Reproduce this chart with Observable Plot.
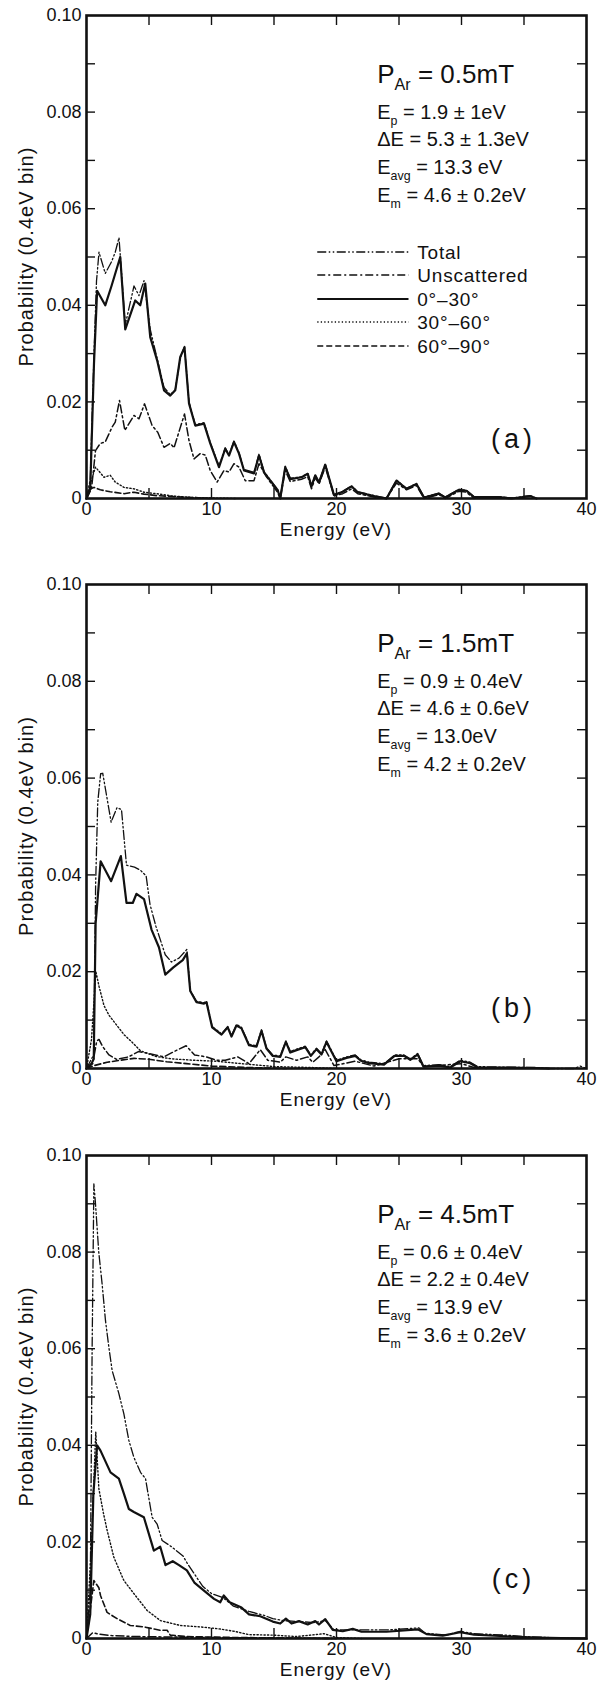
<!DOCTYPE html>
<html><head><meta charset="utf-8">
<script src="https://cdn.jsdelivr.net/npm/d3@7"></script>
<script src="https://cdn.jsdelivr.net/npm/@observablehq/plot@0.6"></script>
<style>
body{margin:0;background:#fff;}
#chart{width:609px;}
#chart svg{display:block;}
</style></head><body><div id="chart"></div>
<script>
const FONT = "'Liberation Sans', Arial, sans-serif";
const xTicks = [0, 10, 20, 30, 40];
const yTicks = [0, 0.02, 0.04, 0.06, 0.08, 0.10];
const xMinor = [5, 10, 15, 20, 25, 30, 35];
const yMinor = [0.01, 0.02, 0.03, 0.04, 0.05, 0.06, 0.07, 0.08, 0.09];
const seriesNames = ["Total", "Unscattered", "0°–30°", "30°–60°", "60°–90°"];

// Panel (a) P_Ar = 0.5 mT : [energy eV, probability]
const aTotal = [[0,0],[0.3,0.004],[0.6,0.03],[0.8,0.045],[1.0,0.051],[1.5,0.0466],[2.0,0.049],[2.3,0.051],[2.6,0.054],[3.1,0.036],[3.8,0.044],[4.2,0.042],[4.6,0.0451],[5.1,0.035],[5.65,0.029],[6.2,0.023],[6.7,0.0215],[7.1,0.0225],[7.5,0.029],[7.84,0.0315],[8.2,0.020],[8.7,0.0153],[9.4,0.0157],[9.9,0.0116],[10.6,0.0067],[11.1,0.0105],[11.4,0.009],[11.8,0.0119],[12.2,0.0095],[12.6,0.006],[13.4,0.0054],[13.8,0.0092],[14.2,0.0056],[15.3,0.0018],[15.5,0.0002],[15.9,0.0067],[16.3,0.0042],[17.2,0.0045],[17.7,0.0052],[18.0,0.0026],[18.3,0.0049],[18.6,0.0034],[19.1,0.0072],[19.8,0.0008],[20.5,0.0015],[21.2,0.0026],[21.7,0.0014],[23.0,0.0006],[24.0,0.0001],[24.8,0.0038],[25.6,0.0021],[26.4,0.0031],[27.0,0.0003],[28.2,0.0011],[28.7,0.0003],[29.8,0.0019],[30.4,0.0017],[31.0,0.0004],[33.0,0.0004],[34.0,0.0001],[35.5,0.0006],[36.0,0]];
const aUnscattered = [[0,0],[0.4,0.002],[0.72,0.0099],[1.1,0.0114],[1.5,0.0117],[2.05,0.0148],[2.3,0.0158],[2.64,0.0203],[3.07,0.0141],[3.8,0.0172],[4.2,0.0165],[4.64,0.0196],[5.25,0.0151],[5.7,0.0137],[6.2,0.0106],[6.7,0.0114],[7.0,0.0105],[7.84,0.0175],[8.2,0.012],[8.6,0.0082],[9.1,0.0093],[9.5,0.009],[9.9,0.0058],[10.45,0.0034],[11.0,0.0058],[11.4,0.0055],[11.8,0.0072],[12.2,0.0065],[12.7,0.0037],[13.4,0.0037],[13.8,0.0072],[14.4,0.0045],[15.3,0.0012],[15.5,0],[15.9,0.0058],[16.3,0.0035],[17.2,0.004],[17.7,0.0045],[18.0,0.002],[18.3,0.0043],[18.6,0.003],[19.1,0.0065],[19.8,0.0005],[20.5,0.001],[21.2,0.002],[21.7,0.001],[23,0.0003],[24,0],[24.8,0.0032],[25.6,0.0018],[26.4,0.0027],[27,0],[28.2,0.0008],[28.7,0],[29.8,0.0015],[30.4,0.0013],[31,0]];
const a0to30 = [[0,0],[0.3,0.002],[0.6,0.028],[0.85,0.043],[1.5,0.040],[2.0,0.044],[2.7,0.050],[3.1,0.035],[3.9,0.041],[4.3,0.040],[4.7,0.0445],[5.1,0.0334],[5.65,0.0286],[6.2,0.0224],[6.7,0.0213],[7.1,0.0224],[7.5,0.0293],[7.84,0.0313],[8.2,0.0197],[8.7,0.0151],[9.4,0.0155],[9.9,0.0114],[10.6,0.0065],[11.1,0.0103],[11.4,0.0089],[11.8,0.0117],[12.2,0.0093],[12.6,0.0058],[13.4,0.0052],[13.8,0.0089],[14.2,0.0054],[15.3,0.0017],[15.5,0],[15.9,0.0065],[16.3,0.004],[17.2,0.0044],[17.7,0.0051],[18.0,0.0025],[18.3,0.0048],[18.6,0.0033],[19.1,0.007],[19.8,0.0007],[20.5,0.0014],[21.2,0.0025],[21.7,0.0013],[23.0,0.0005],[24.0,0],[24.8,0.0037],[25.6,0.002],[26.4,0.003],[27.0,0.0002],[28.2,0.001],[28.7,0.0002],[29.8,0.0018],[30.4,0.0016],[31.0,0.0003],[33.0,0.0003],[34,0],[35.5,0.0005],[36,0]];
const a30to60 = [[0,0],[0.3,0.003],[0.72,0.0065],[1.4,0.0044],[1.9,0.0048],[2.3,0.0034],[3.0,0.0023],[3.8,0.002],[4.6,0.0013],[5.6,0.001],[6.9,0.0005],[8.6,0.0002],[10,0.0001],[12,0]];
const a60to90 = [[0,0],[0.3,0.002],[0.6,0.0023],[1.1,0.0018],[1.9,0.0014],[3.0,0.001],[3.8,0.0013],[4.6,0.0009],[5.6,0.0006],[6.9,0.0004],[8.5,0.0002],[10,0]];

// Panel (b) P_Ar = 1.5 mT
const bTotal = [[0,0],[0.4,0.002],[0.58,0.0028],[0.73,0.038],[0.9,0.055],[1.13,0.0609],[1.3,0.061],[1.97,0.0509],[2.44,0.0539],[2.8,0.0535],[3.2,0.042],[3.84,0.0416],[4.3,0.041],[4.77,0.0398],[5.08,0.0339],[5.55,0.0294],[6.3,0.0235],[6.8,0.022],[7.4,0.0228],[8.03,0.0246],[8.3,0.0161],[8.8,0.0139],[9.4,0.0136],[9.6,0.0139],[10.05,0.0087],[10.8,0.0072],[11.3,0.0087],[11.6,0.0068],[12.0,0.0091],[12.4,0.0085],[13.0,0.005],[13.6,0.0047],[14.0,0.008],[14.4,0.0043],[14.9,0.0028],[15.5,0.0026],[15.95,0.0057],[16.3,0.0035],[16.8,0.004],[17.5,0.0046],[17.95,0.0028],[18.4,0.0042],[18.8,0.0031],[19.2,0.0057],[20.0,0.0017],[20.8,0.0024],[21.5,0.0028],[21.95,0.0018],[22.6,0.0013],[23.8,0.001],[24.65,0.0028],[25.4,0.0028],[25.9,0.002],[26.5,0.0031],[26.95,0.0006],[28.2,0.0008],[29.1,0.0004],[29.9,0.0017],[30.7,0.0013],[31.3,0.0004],[33,0.0003],[36,0.0002],[37,0],[39,0],[39.5,0.0005],[40,0]];
const bUnscattered = [[0,0],[0.5,0.001],[0.82,0.0057],[1.0,0.006],[1.3,0.0045],[1.8,0.0028],[2.4,0.0019],[3.37,0.0024],[4.15,0.0035],[4.8,0.0032],[5.5,0.0028],[6.2,0.0024],[7.0,0.0035],[7.97,0.0047],[8.65,0.0028],[9.6,0.0024],[10.4,0.0017],[11.1,0.0017],[12.1,0.0024],[13.0,0.001],[13.9,0.0039],[14.5,0.0017],[15.5,0.0013],[15.95,0.0024],[16.8,0.0017],[17.7,0.0024],[18.1,0.0013],[18.6,0.0024],[19.1,0.0039],[19.8,0.0006],[21.5,0.0015],[23,0.0005],[25,0.002],[26.5,0.002],[27,0.0004],[30,0.001],[31,0.0002],[32,0]];
const b0to30 = [[0,0],[0.4,0.001],[0.58,0.002],[0.73,0.030],[1.13,0.0428],[1.97,0.0387],[2.75,0.0439],[3.2,0.0342],[3.7,0.0342],[4.0,0.0361],[4.6,0.035],[5.2,0.0287],[5.8,0.025],[6.3,0.0194],[6.95,0.0209],[7.7,0.0224],[8.03,0.0238],[8.3,0.016],[8.8,0.0137],[9.4,0.0134],[9.6,0.0137],[10.05,0.0085],[10.8,0.007],[11.3,0.0085],[11.6,0.0066],[12.0,0.0089],[12.4,0.0083],[13.0,0.0048],[13.6,0.0045],[14.0,0.0078],[14.4,0.0041],[14.9,0.0026],[15.5,0.0024],[15.95,0.0055],[16.3,0.0033],[16.8,0.0038],[17.5,0.0044],[17.95,0.0026],[18.4,0.004],[18.8,0.0029],[19.2,0.0055],[20.0,0.0015],[20.8,0.0022],[21.5,0.0026],[21.95,0.0016],[22.6,0.0011],[23.8,0.0008],[24.65,0.0026],[25.4,0.0026],[25.9,0.0018],[26.5,0.0029],[26.95,0.0004],[28.2,0.0006],[29.1,0.0002],[29.9,0.0015],[30.7,0.0011],[31.3,0.0002],[33,0.0002],[36,0.0001],[37,0]];
const b30to60 = [[0,0],[0.4,0.006],[0.75,0.020],[1.0,0.017],[1.4,0.013],[1.8,0.011],[2.4,0.009],[3.0,0.007],[3.5,0.0058],[4.3,0.0037],[5.5,0.0025],[6.8,0.002],[8.6,0.0017],[10.4,0.0015],[12.4,0.001],[15,0.0004],[18,0.0002],[20,0]];
const b60to90 = [[0,0],[0.6,0.0006],[1.65,0.0013],[2.7,0.0017],[3.8,0.0021],[5.0,0.0019],[6.4,0.0014],[8,0.001],[10,0.0005],[13,0.0002],[16,0]];

// Panel (c) P_Ar = 4.5 mT
const cTotal = [[0,0],[0.3,0.01],[0.45,0.06],[0.59,0.0941],[0.72,0.090],[0.98,0.080],[1.25,0.0734],[1.52,0.0658],[1.79,0.0603],[2.05,0.0555],[2.59,0.0507],[2.99,0.0465],[3.39,0.041],[3.79,0.0375],[4.32,0.0344],[4.72,0.0331],[5.25,0.0251],[5.65,0.0237],[6.05,0.0203],[6.85,0.0189],[7.72,0.0171],[8.1,0.0154],[9.3,0.0108],[10.0,0.0093],[10.9,0.0085],[11.76,0.0067],[13.0,0.0056],[14.2,0.0048],[14.9,0.0041],[15.8,0.0037],[18.2,0.0033],[19.1,0.0037],[19.8,0.0018],[21.1,0.0018],[24.3,0.0018],[26.6,0.0022],[27.1,0.0011],[28.8,0.0007],[29.9,0.0015],[31,0.001],[33.5,0.0007],[35,0.0004],[37,0.0002],[40,0]];
const cUnscattered = [[0,0],[0.5,0.0012],[1.0,0.0009],[2,0.0006],[4,0.0004],[7,0.0003],[10,0.0002],[15,0.0001],[20,0]];
const c0to30 = [[0,0],[0.3,0.005],[0.55,0.03],[0.85,0.040],[1.12,0.0389],[1.92,0.0344],[2.59,0.0331],[2.99,0.030],[3.39,0.0268],[3.79,0.0262],[4.59,0.0251],[5.39,0.0182],[5.9,0.019],[6.32,0.0152],[6.9,0.016],[7.4,0.0152],[8.03,0.0141],[8.65,0.0115],[9.3,0.0101],[10.2,0.0082],[10.7,0.0075],[10.98,0.0089],[11.45,0.0075],[12.4,0.0064],[13.0,0.005],[13.9,0.0046],[14.9,0.0035],[15.5,0.0031],[15.95,0.0041],[16.4,0.0031],[17.0,0.0036],[17.7,0.0029],[18.3,0.0036],[18.6,0.0029],[19.1,0.004],[19.7,0.0018],[20.5,0.0015],[21.3,0.002],[22,0.0014],[24,0.0014],[26.5,0.0019],[27.2,0.0009],[28.5,0.0006],[29.9,0.0013],[31,0.0008],[34,0.0004],[36,0.0002],[40,0]];
const c30to60 = [[0,0],[0.4,0.02],[0.74,0.0427],[0.99,0.031],[1.35,0.026],[1.65,0.0224],[2.19,0.0168],[2.99,0.012],[3.79,0.0093],[4.85,0.0058],[5.92,0.0037],[7.5,0.0027],[9.1,0.0024],[10.6,0.002],[11.8,0.0015],[13,0.0008],[14.9,0.0007],[16.8,0.0004],[19,0.001],[20,0.0002],[22,0]];
const c60to90 = [[0,0],[0.3,0.006],[0.59,0.012],[0.99,0.0105],[1.12,0.0089],[1.65,0.0054],[2.45,0.0041],[3.5,0.0027],[4.6,0.0024],[5.9,0.0017],[6.45,0.0017],[6.7,0.0007],[8,0.0004],[12,0.0002],[16,0.0001],[20,0]];

const paramsA = ["0.5mT", "1.9 ± 1eV", "5.3 ± 1.3eV", "13.3 eV", "4.6 ± 0.2eV"];
const paramsB = ["1.5mT", "0.9 ± 0.4eV", "4.6 ± 0.6eV", "13.0eV", "4.2 ± 0.2eV"];
const paramsC = ["4.5mT", "0.6 ± 0.4eV", "2.2 ± 0.4eV", "13.9 eV", "3.6 ± 0.2eV"];

const lineStyles = [
  {strokeWidth: 1.3, strokeDasharray: "9,2.5,1.5,2.5,1.5,2.5"},
  {strokeWidth: 1.5, strokeDasharray: "8,3,2,3"},
  {strokeWidth: 2.2},
  {strokeWidth: 1.4, strokeDasharray: "1.3,2.2"},
  {strokeWidth: 1.6, strokeDasharray: "6,3"}
];

function rich(sel, x, y, size, parts) {
  const t = sel.append("text").attr("x", x).attr("y", y).attr("text-anchor", "start")
    .attr("font-size", size).attr("font-family", FONT).attr("fill", "#111");
  let shifted = false;
  for (const p of parts) {
    const ts = t.append("tspan").text(typeof p === "string" ? p : p.sub);
    if (typeof p !== "string") { ts.attr("font-size", size * 0.62).attr("dy", size * 0.28); shifted = true; }
    else if (shifted) { ts.attr("dy", -size * 0.28); shifted = false; }
  }
  return t;
}

function makePanel({series, height, mb, params, tag, legend}) {
  const W = 609, ml = 86, mr = 23, mt = 15;
  const ph = height - mt - mb, pw = W - ml - mr;
  const lines = series.map((s, i) => Plot.line(s, {
    x: d => d[0], y: d => d[1], stroke: "#111", strokeLinejoin: "round", ...lineStyles[i]
  }));
  const plot = Plot.plot({
    width: W, height, marginTop: mt, marginLeft: ml, marginRight: mr, marginBottom: mb,
    style: {fontFamily: FONT, background: "#fff", color: "#111"},
    x: {domain: [0, 40]}, y: {domain: [0, 0.1]},
    marks: [
      ...lines,
      Plot.tickY(yMinor, {y: d => d, insetRight: pw - 9, strokeWidth: 1.4, stroke: "#111"}),
      Plot.tickY(yMinor, {y: d => d, insetLeft: pw - 9, strokeWidth: 1.4, stroke: "#111"}),
      Plot.tickX(xMinor, {x: d => d, insetTop: ph - 10, strokeWidth: 1.4, stroke: "#111"}),
      Plot.tickX(xMinor, {x: d => d, insetBottom: ph - 10, strokeWidth: 1.4, stroke: "#111"}),
      Plot.frame({stroke: "#111", strokeWidth: 2.6}),
      Plot.axisY(yTicks, {tickSize: 0, tickPadding: 5, fontSize: 18, label: null,
        tickFormat: d => d === 0 ? "0" : d.toFixed(2)}),
      Plot.axisX(xTicks, {tickSize: 0, tickPadding: 4, fontSize: 18, label: null})
    ]
  });
  const svg = d3.select(plot);
  const sx = plot.scale("x"), sy = plot.scale("y");
  const X = v => sx.apply(v), Y = v => sy.apply(v);
  const top = Y(0.1), bottom = Y(0);
  const g = svg.append("g");
  // Axis titles
  g.append("text").attr("x", (X(0) + X(40)) / 2).attr("y", bottom + 38)
    .attr("text-anchor", "middle").attr("font-size", 19).attr("letter-spacing", 1)
    .attr("font-family", FONT).attr("fill", "#111").text("Energy (eV)");
  g.append("text").attr("transform", `translate(33,${(top + bottom) / 2}) rotate(-90)`)
    .attr("text-anchor", "middle").attr("font-size", 20).attr("letter-spacing", 1)
    .attr("font-family", FONT).attr("fill", "#111").text("Probability (0.4eV bin)");
  // Parameter block
  const ax = X(23.3);
  rich(g, ax, top + 68, 26, ["P", {sub: "Ar"}, " = " + params[0]]);
  rich(g, ax, top + 104, 20, ["E", {sub: "p"}, " = " + params[1]]);
  rich(g, ax, top + 131, 20, ["ΔE = " + params[2]]);
  rich(g, ax, top + 159, 20, ["E", {sub: "avg"}, " = " + params[3]]);
  rich(g, ax, top + 187, 20, ["E", {sub: "m"}, " = " + params[4]]);
  // Panel tag
  g.append("text").attr("x", X(34.2)).attr("y", top + 424).attr("dy", "0.35em")
    .attr("text-anchor", "middle").attr("font-size", 27).attr("letter-spacing", 4)
    .attr("font-family", FONT).attr("fill", "#111").text(tag);
  // Legend
  if (legend) {
    const rows = [237, 260, 284, 307, 331];
    seriesNames.forEach((name, i) => {
      const st = lineStyles[i];
      g.append("line").attr("x1", X(18.5)).attr("x2", X(25.8))
        .attr("y1", top + rows[i]).attr("y2", top + rows[i])
        .attr("stroke", "#111").attr("stroke-width", st.strokeWidth)
        .attr("stroke-dasharray", st.strokeDasharray || null);
      g.append("text").attr("x", X(26.5)).attr("y", top + rows[i]).attr("dy", "0.36em")
        .attr("text-anchor", "start").attr("font-size", 19).attr("letter-spacing", 0.8)
        .attr("font-family", FONT).attr("fill", "#111").text(name);
    });
  }
  return plot;
}

const root = document.getElementById("chart");
root.appendChild(makePanel({series: [aTotal, aUnscattered, a0to30, a30to60, a60to90], height: 569, mb: 71, params: paramsA, tag: "(a)", legend: true}));
root.appendChild(makePanel({series: [bTotal, bUnscattered, b0to30, b30to60, b60to90], height: 571, mb: 72, params: paramsB, tag: "(b)", legend: false}));
root.appendChild(makePanel({series: [cTotal, cUnscattered, c0to30, c30to60, c60to90], height: 542, mb: 44, params: paramsC, tag: "(c)", legend: false}));
</script></body></html>
